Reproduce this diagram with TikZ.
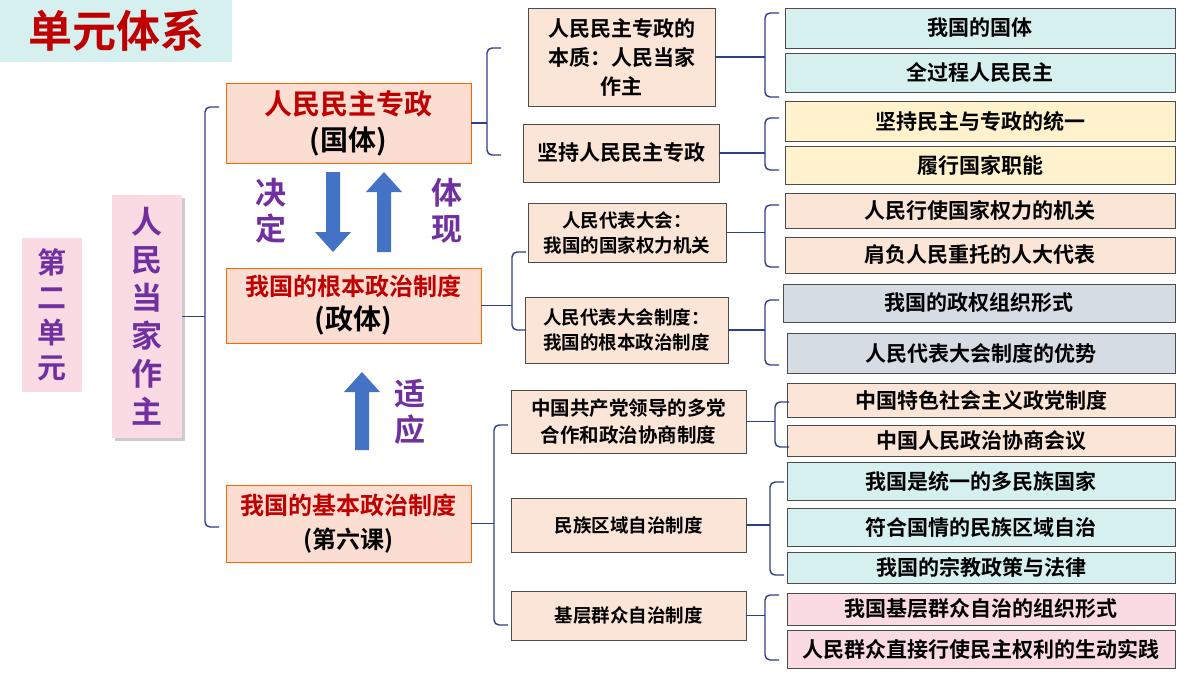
\documentclass[tikz,border=0pt]{standalone}
\usepackage{fontspec}
\setmainfont{Noto Sans CJK SC}[BoldFont={Noto Sans CJK SC Bold}]
\usetikzlibrary{arrows.meta,shadows}
\definecolor{teal}{HTML}{D5F0EE}
\definecolor{yel}{HTML}{FFF2CC}
\definecolor{sal}{HTML}{FBE5D6}
\definecolor{gry}{HTML}{D6DCE4}
\definecolor{pnk}{HTML}{FADBE3}
\definecolor{purp}{HTML}{7030A0}
\definecolor{ln}{HTML}{2F3E8A}
\definecolor{arr}{HTML}{4472C4}
\definecolor{rd}{HTML}{C00000}
\newcommand\bx[7]{\node[#6,minimum width={(#4-#2)*1pt},minimum height={(#5-#3)*1pt}] (#1) at ({(#2+#4)/2},{(#3+#5)/2}) {#7};}
\newcommand\brc[4]{% name, x, top, bottom
  \coordinate (#1t) at (#2+14,#3); \coordinate (#1b) at (#2+14,#4);
  \draw[br] (#1t) -- (#2,#3) -- (#2,#4) -- (#1b);}
\newcommand\stub[2]{\draw[con] (#1.east) -- (#1.east -| #2);}
\begin{document}
\begin{tikzpicture}[x=1pt,y=-1pt,font=\bfseries,
  base/.style={draw,inner sep=0pt,outer sep=0pt,align=center},
  leaf/.style={base,draw=black!70,font=\bfseries\fontsize{21}{24}\selectfont},
  mid/.style={base,draw=black!70,fill=sal,font=\bfseries\fontsize{18.5}{25}\selectfont},
  big/.style={base,draw=orange!80!red,fill=sal!80!pink,line width=0.8pt,font=\bfseries\fontsize{28}{36}\selectfont},
  br/.style={draw=ln,line width=1.4pt,rounded corners=5pt},
  con/.style={draw=ln,line width=1.4pt},
  vt/.style={text=purp,font=\bfseries\fontsize{31}{36}\selectfont,align=center}]
\useasboundingbox (0,0) rectangle (1200,675);
\fill[white] (0,0) rectangle (1200,675);
\bx{title}{0}{0}{232}{62}{base,draw=none,fill=teal,text=rd,font=\bfseries\fontsize{44}{46}\selectfont}{单元体系}
\bx{u2}{22}{238}{82}{392}{base,draw=none,fill=pnk,text=purp,font=\bfseries\fontsize{29}{35}\selectfont}{第\\二\\单\\元}
\bx{rm}{112}{195}{182}{438}{base,draw=none,fill=pnk,text=purp,drop shadow={opacity=0.4},font=\bfseries\fontsize{31}{38}\selectfont}{人\\民\\当\\家\\作\\主}
\bx{A}{226}{83}{471}{163}{big}{\textcolor{rd}{人民民主专政}\\(国体)}
\bx{B}{226}{268}{481}{343}{big,font=\bfseries\fontsize{24}{34}\selectfont}{\textcolor{rd}{我国的根本政治制度}\\{\fontsize{28}{34}\selectfont(政体)}}
\bx{C}{226}{485}{471}{562}{big,font=\bfseries\fontsize{24}{34}\selectfont}{\textcolor{rd}{我国的基本政治制度}\\(第六课)}
\brc{m}{205}{107}{527}
\draw[con] (rm.east) -- (rm.east -| 205,0);
\fill[arr] (326,172) -- (340,172) -- (340,232) -- (351,232) -- (333,252) -- (315,232) -- (326,232) -- cycle;
\fill[arr] (377,252) -- (391,252) -- (391,192) -- (402,192) -- (384,172) -- (366,192) -- (377,192) -- cycle;
\fill[arr] (355,450) -- (369,450) -- (369,392) -- (380,392) -- (362,372) -- (344,392) -- (355,392) -- cycle;
\node[vt] (jd) at (271,211) {决\\定};
\node[vt] (tx) at (447,211) {体\\现};
\node[vt] (sy) at (410,412) {适\\应};
\bx{A1}{528}{8}{715}{106}{mid,font=\bfseries\fontsize{21}{29}\selectfont}{人民民主专政的\\本质：人民当家\\作主}
\bx{A2}{523}{124}{719}{182}{mid,font=\bfseries\fontsize{21}{26}\selectfont}{坚持人民民主专政}
\bx{B1}{528}{203}{726}{262}{mid}{人民代表大会：\\我国的国家权力机关}
\bx{B2}{525}{297}{728}{363}{mid}{人民代表大会制度：\\我国的根本政治制度}
\bx{C1}{511}{390}{746}{453}{mid,font=\bfseries\fontsize{19.5}{27}\selectfont}{中国共产党领导的多党\\合作和政治协商制度}
\bx{C2}{511}{498}{746}{552}{mid}{民族区域自治制度}
\bx{C3}{511}{591}{746}{640}{mid}{基层群众自治制度}
\brc{a}{487}{48}{155} \stub{A}{487,0}
\brc{b}{512}{252}{330} \stub{B}{512,0}
\brc{c}{494}{425}{625} \stub{C}{494,0}
\bx{L1}{785}{8}{1175}{48}{leaf,fill=teal}{我国的国体}
\bx{L2}{785}{53}{1175}{92}{leaf,fill=teal}{全过程人民民主}
\bx{L3}{785}{101}{1175}{141}{leaf,fill=yel}{坚持民主与专政的统一}
\bx{L4}{785}{146}{1175}{184}{leaf,fill=yel}{履行国家职能}
\bx{L5}{785}{193}{1175}{228}{leaf,fill=sal}{人民行使国家权力的机关}
\bx{L6}{785}{237}{1175}{273}{leaf,fill=sal}{肩负人民重托的人大代表}
\bx{L7}{783}{284}{1175}{322}{leaf,fill=gry}{我国的政权组织形式}
\bx{L8}{787}{333}{1175}{373}{leaf,fill=gry}{人民代表大会制度的优势}
\bx{L9}{787}{383}{1175}{417}{leaf,fill=sal}{中国特色社会主义政党制度}
\bx{L10}{787}{425}{1175}{456}{leaf,fill=sal}{中国人民政治协商会议}
\bx{L11}{787}{462}{1175}{500}{leaf,fill=teal}{我国是统一的多民族国家}
\bx{L12}{787}{508}{1175}{546}{leaf,fill=teal}{符合国情的民族区域自治}
\bx{L13}{787}{552}{1175}{583}{leaf,fill=teal}{我国的宗教政策与法律}
\bx{L14}{787}{593}{1175}{625}{leaf,fill=pnk}{我国基层群众自治的组织形式}
\bx{L15}{787}{630}{1175}{668}{leaf,fill=pnk}{人民群众直接行使民主权利的生动实践}
\brc{p}{765}{13}{97} \stub{A1}{765,0}
\brc{q}{765}{118}{170} \stub{A2}{765,0}
\brc{r}{765}{205}{267} \stub{B1}{765,0}
\brc{s}{765}{300}{365} \stub{B2}{765,0}
\brc{t}{775}{402}{447} \stub{C1}{775,0}
\brc{u}{770}{482}{575} \stub{C2}{770,0}
\brc{v}{765}{595}{660} \stub{C3}{765,0}
\end{tikzpicture}
\end{document}
